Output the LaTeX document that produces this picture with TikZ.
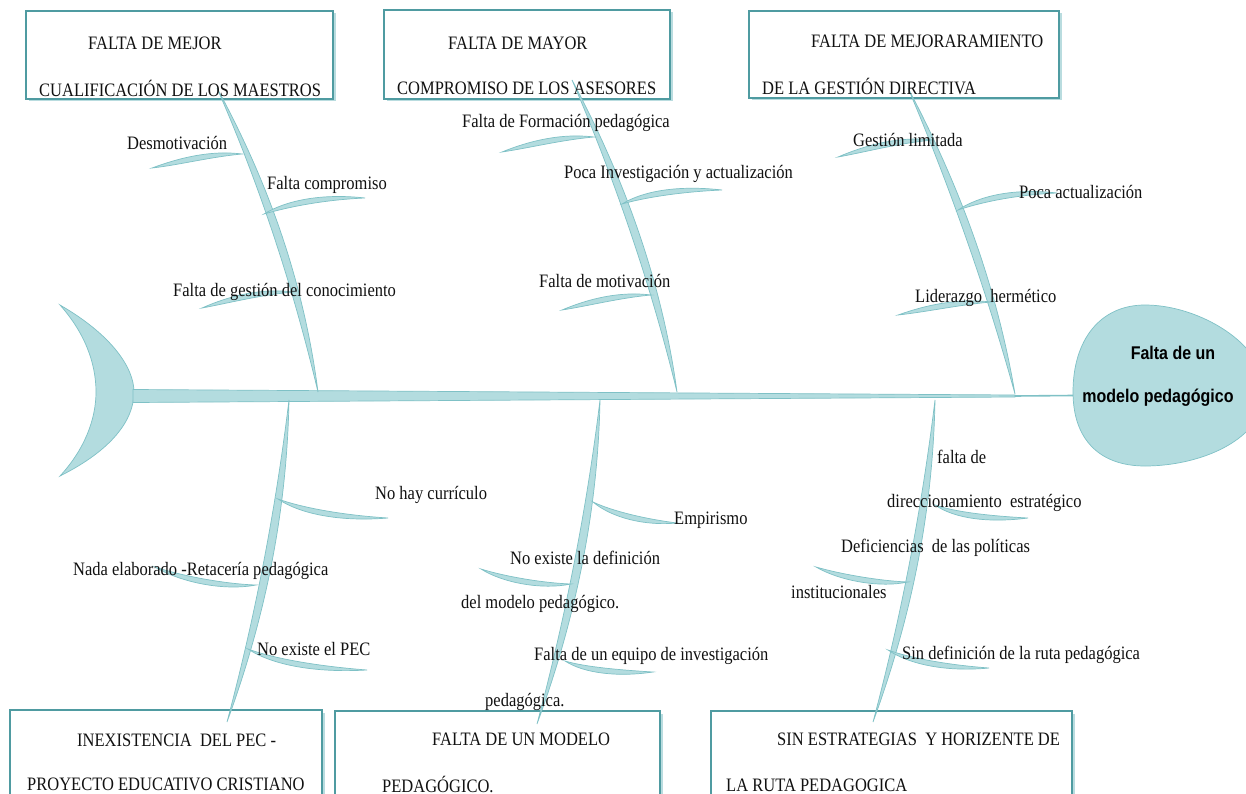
\documentclass[tikz,border=0pt]{standalone}
\usepackage{fontspec}
\setmainfont{Liberation Serif}
\newfontfamily\headfont{Liberation Sans}
\usetikzlibrary{calc,shadows}
\definecolor{bonefill}{HTML}{B3DCDF}
\definecolor{boneline}{HTML}{7FC1C6}
\definecolor{boxline}{HTML}{4F9BA1}
\definecolor{shadowc}{HTML}{A8D4D7}
\definecolor{txt}{HTML}{111111}
\newcommand\vs[1]{\scalebox{1}[1.15]{#1}}
\newcommand\bonesh[5]{\filldraw[boneshape] (#1) .. controls (#3) and (#4) .. (#2) .. controls ($(#4)+(#5)$) and ($(#3)+(#5)$) .. (#1) -- cycle;}
\begin{document}
\begin{tikzpicture}[x=1pt,y=-1pt,
  boneshape/.style={fill=bonefill, draw=boneline, line width=0.7pt},
  cbox/.style={draw=boxline, line width=2.5pt, fill=white, inner sep=0pt,
    drop shadow={shadow xshift=2.5pt, shadow yshift=-2.5pt, fill=shadowc, opacity=0.8}},
  lbl/.style={anchor=west, inner sep=0pt, text=txt, font=\fontsize{16.5}{19}\selectfont},
  headtxt/.style={inner sep=0pt, text=black, font=\headfont\bfseries\fontsize{16}{19}\selectfont}]
\useasboundingbox (0,0) rectangle (1246,794);
\clip (0,0) rectangle (1246,794);
\fill[white] (0,0) rectangle (1246,794);

% boxes
\node[cbox, minimum width=307pt, minimum height=88pt] (b1) at (179.5,55) {};
\node[cbox, minimum width=286pt, minimum height=89pt] (b2) at (527,54.5) {};
\node[cbox, minimum width=310pt, minimum height=87pt] (b3) at (904,54.5) {};
\node[cbox, minimum width=312pt, minimum height=110pt] (b4) at (166,765) {};
\node[cbox, minimum width=325pt, minimum height=109pt] (b5) at (497.5,765.5) {};
\node[cbox, minimum width=361pt, minimum height=109pt] (b6) at (891.5,765.5) {};

% tail
\filldraw[boneshape] (60,305) .. controls (112,335) and (134,368) .. (134,392)
  .. controls (134,420) and (112,450) .. (60,476)
  .. controls (84,450) and (96,420) .. (96,392)
  .. controls (96,362) and (84,332) .. (60,305) -- cycle;

% head
\filldraw[boneshape] (1073,392) .. controls (1073,340) and (1100,305) .. (1145,305)
  .. controls (1200,305) and (1265,345) .. (1265,390)
  .. controls (1265,440) and (1200,466) .. (1145,466)
  .. controls (1100,466) and (1073,440) .. (1073,392) -- cycle;
\coordinate (headL) at (1073,395.5);

% spine
\coordinate (sp0) at (1015,396);
\filldraw[boneshape] (133,389.5) -- (1015,395) -- (1015,397) -- (133,402.5) -- cycle;
\draw[boneline, line width=1.6pt] (sp0) -- (headL);

% main bones
\coordinate (m1a) at (217,88);  \coordinate (m1b) at (318,392);
\coordinate (m2a) at (572,80);  \coordinate (m2b) at (677,392);
\coordinate (m3a) at (908,88);  \coordinate (m3b) at (1015,394);
\coordinate (m4a) at (289,400); \coordinate (m4b) at (227,722);
\coordinate (m5a) at (600,400); \coordinate (m5b) at (537,724);
\coordinate (m6a) at (935,400); \coordinate (m6b) at (873,722);
\bonesh{m1a}{m1b}{262,191}{294,291}{11,0}
\bonesh{m2a}{m2b}{617,185}{652,289}{11,0}
\bonesh{m3a}{m3b}{952,192}{987,293}{11,0}
\bonesh{m4a}{m4b}{276,507}{256,613}{11,0}
\bonesh{m5a}{m5b}{587,507}{566,615}{11,0}
\bonesh{m6a}{m6b}{922,507}{902,613}{11,0}

% sub branches
\coordinate (s1p) at (242,154);  \coordinate (s1t) at (152,168);
\coordinate (s2p) at (293,292);  \coordinate (s2t) at (202,308);
\coordinate (s3p) at (594,137);  \coordinate (s3t) at (502,152);
\coordinate (s4p) at (651,295);  \coordinate (s4t) at (562,310);
\coordinate (s5p) at (933,140);  \coordinate (s5t) at (838,157);
\coordinate (s6p) at (991,302);  \coordinate (s6t) at (898,315);
\bonesh{s1t}{s1p}{179,158}{210,150}{0,7}
\bonesh{s2t}{s2p}{229,296}{260,288}{0,7}
\bonesh{s3t}{s3p}{529,141}{561,133}{0,7}
\bonesh{s4t}{s4p}{588,299}{619,291}{0,7}
\bonesh{s5t}{s5p}{866,145}{899,136}{0,7}
\bonesh{s6t}{s6p}{926,305}{958,298}{0,7}

\coordinate (s7p) at (264,214);  \coordinate (s7t) at (365,198);
\coordinate (s8p) at (622,204);  \coordinate (s8t) at (722,190);
\coordinate (s9p) at (958,210);  \coordinate (s9t) at (1057,193);
\bonesh{s7p}{s7t}{285,201}{320,193}{0,7}
\bonesh{s8p}{s8t}{643,191}{678,185}{0,7}
\bonesh{s9p}{s9t}{979,196}{1013,188}{0,7}

\coordinate (s10p) at (278,499); \coordinate (s10t) at (388,518);
\coordinate (s11p) at (248,649); \coordinate (s11t) at (367,670);
\coordinate (s12p) at (593,502); \coordinate (s12t) at (677,523);
\coordinate (s13p) at (935,505); \coordinate (s13t) at (1028,518);
\coordinate (s14p) at (888,650); \coordinate (s14t) at (989,668);
\coordinate (s18p) at (565,661); \coordinate (s18t) at (653,672);
\bonesh{s10p}{s10t}{300,507}{340,515}{0,7}
\bonesh{s11p}{s11t}{272,658}{315,666}{0,7}
\bonesh{s12p}{s12t}{612,511}{645,519}{0,7}
\bonesh{s13p}{s13t}{955,512}{990,516}{0,7}
\bonesh{s14p}{s14t}{910,658}{948,665}{0,7}
\bonesh{s18p}{s18t}{585,667}{620,670}{0,7}

\coordinate (s15p) at (256,585); \coordinate (s15t) at (155,567);
\coordinate (s16p) at (571,584); \coordinate (s16t) at (481,569);
\coordinate (s17p) at (908,582); \coordinate (s17t) at (816,567);
\bonesh{s15t}{s15p}{182,576}{225,584}{0,7}
\bonesh{s16t}{s16p}{503,576}{542,583}{0,7}
\bonesh{s17t}{s17p}{840,574}{880,581}{0,7}

% box texts
\node[lbl] (t1a) at (88,43) {\vs{FALTA DE MEJOR}};
\node[lbl] (t1b) at (39,88) {\vs{CUALIFICACIÓN DE LOS MAESTROS}};
\node[lbl] (t2a) at (448,43) {\vs{FALTA DE MAYOR}};
\node[lbl] (t2b) at (397,88) {\vs{COMPROMISO DE LOS ASESORES}};
\node[lbl] (t3a) at (811,41) {\vs{FALTA DE MEJORARAMIENTO}};
\node[lbl] (t3b) at (762,87) {\vs{DE LA GESTIÓN DIRECTIVA}};
\node[lbl] (t4a) at (77,740) {\vs{INEXISTENCIA\ \ DEL PEC -}};
\node[lbl] (t4b) at (27,784) {\vs{PROYECTO EDUCATIVO CRISTIANO}};
\node[lbl] (t5a) at (432,739) {\vs{FALTA DE UN MODELO}};
\node[lbl] (t5b) at (382,784) {\vs{PEDAGÓGICO.}};
\node[lbl] (t6a) at (777,739) {\vs{SIN ESTRATEGIAS\ \ Y HORIZENTE DE}};
\node[lbl] (t6b) at (726,785) {\vs{LA RUTA PEDAGOGICA}};

% head text
\node[headtxt] (h1) at (1173,353) {\vs{Falta de un}};
\node[headtxt] (h2) at (1158,398) {\vs{modelo pedagógico}};

% cause labels
\node[lbl] (l1) at (127,143) {\vs{Desmotivación}};
\node[lbl] (l2) at (267,185) {\vs{Falta compromiso}};
\node[lbl] (l3) at (173,292) {\vs{Falta de gestión del conocimiento}};
\node[lbl] (l4) at (462,123) {\vs{Falta de Formación pedagógica}};
\node[lbl] (l5) at (564,174) {\vs{Poca Investigación y actualización}};
\node[lbl] (l6) at (539,281) {\vs{Falta de motivación}};
\node[lbl] (l7) at (853,140) {\vs{Gestión limitada}};
\node[lbl] (l8) at (1019,192) {\vs{Poca actualización}};
\node[lbl] (l9) at (915,298) {\vs{Liderazgo\ \ hermético}};
\node[lbl] (l10) at (375,495) {\vs{No hay currículo}};
\node[lbl] (l11) at (73,571) {\vs{Nada elaborado -Retacería pedagógica}};
\node[lbl] (l12) at (257,649) {\vs{No existe el PEC}};
\node[lbl] (l13) at (674,520) {\vs{Empirismo}};
\node[lbl] (l14) at (510,558) {\vs{No existe la definición}};
\node[lbl] (l15) at (461,604) {\vs{del modelo pedagógico.}};
\node[lbl] (l16) at (534,656) {\vs{Falta de un equipo de investigación}};
\node[lbl] (l17) at (485,702) {\vs{pedagógica.}};
\node[lbl] (l18) at (937,457) {\vs{falta de}};
\node[lbl] (l19) at (887,503) {\vs{direccionamiento\ \ estratégico}};
\node[lbl] (l20) at (841,548) {\vs{Deficiencias\ \ de las políticas}};
\node[lbl] (l21) at (791,592) {\vs{institucionales}};
\node[lbl] (l22) at (902,655) {\vs{Sin definición de la ruta pedagógica}};
\end{tikzpicture}
\end{document}
